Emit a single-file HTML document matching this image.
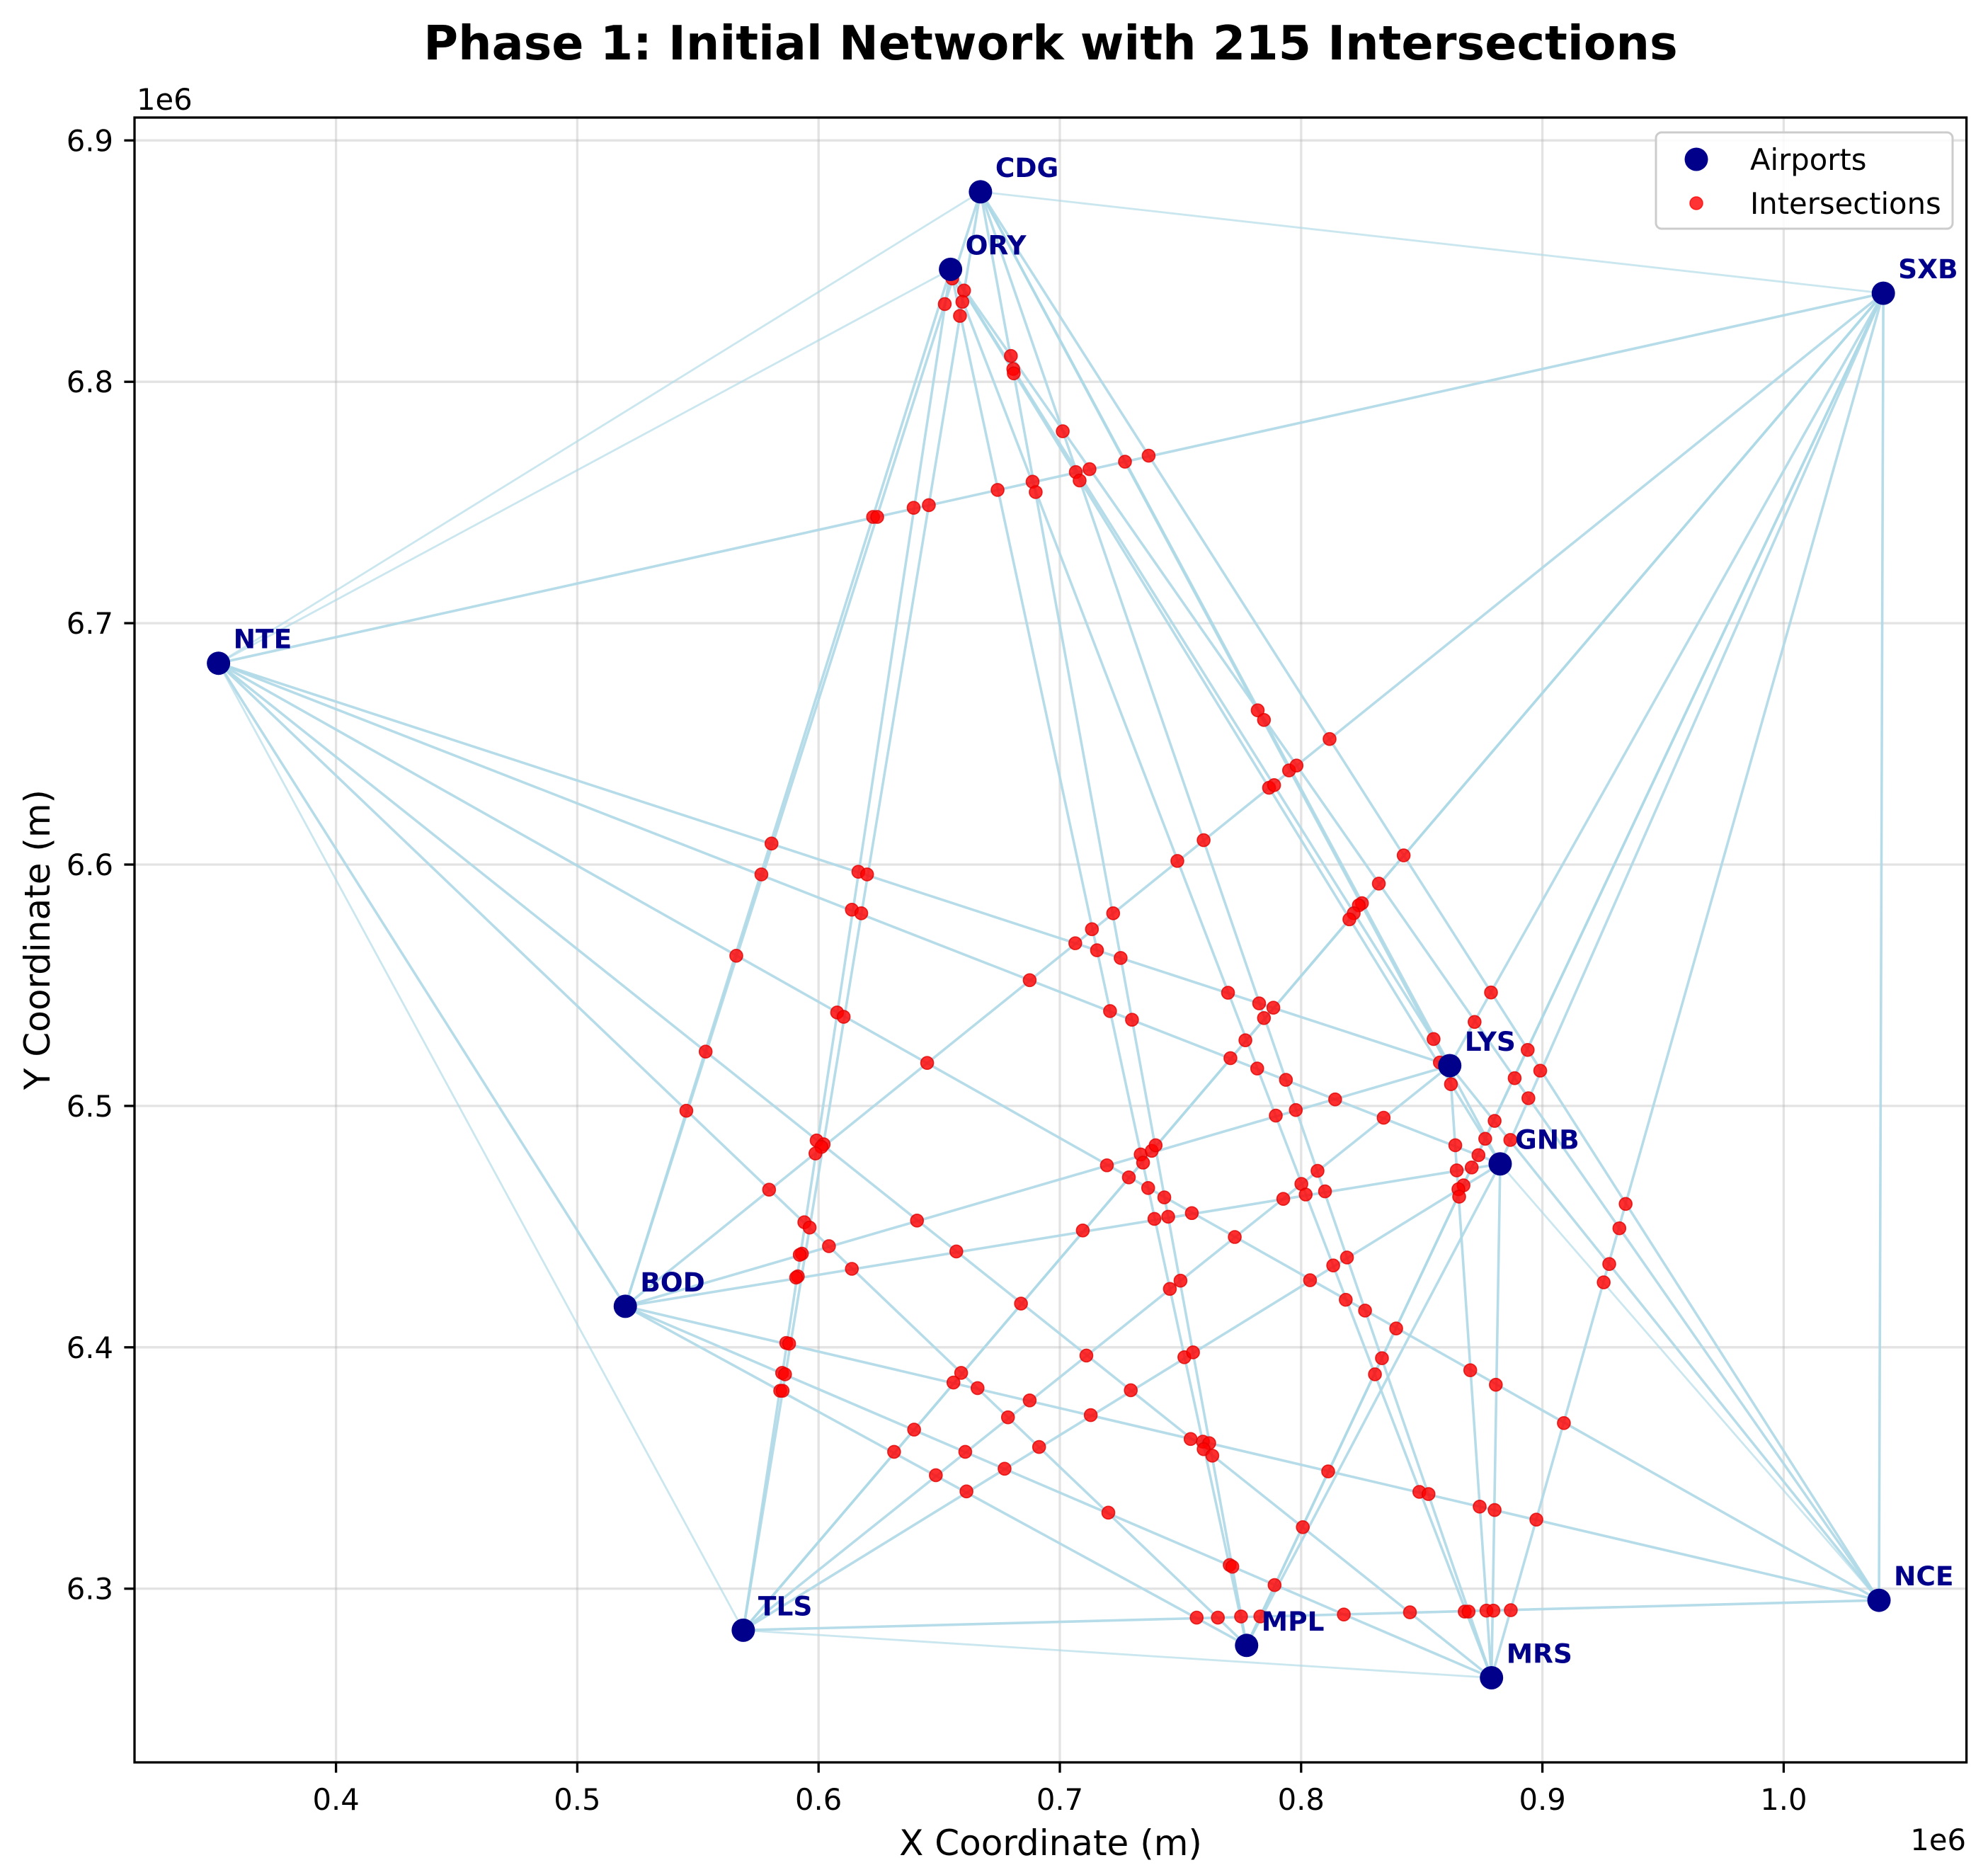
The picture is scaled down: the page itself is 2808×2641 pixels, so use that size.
<!DOCTYPE html>
<html>
<head>
<meta charset="utf-8">
<style>
  html, body { margin: 0; padding: 0; background: #ffffff; }
  svg { display: block; }
  text { font-family: "DejaVu Sans", "Liberation Sans", sans-serif; }
</style>
</head>
<body>
<svg id="chart" xmlns="http://www.w3.org/2000/svg" width="2808" height="2641" viewBox="0 0 2808 2641">
  <rect x="0" y="0" width="2808" height="2641" fill="#ffffff"/>
  <g id="grid"></g>
  <g id="routes"></g>
  <g id="intersections"></g>
  <g id="airports"></g>
  <g id="axes"></g>
  <text x="1484" y="84" text-anchor="middle" font-size="66.7" font-weight="bold" fill="#000">Phase 1: Initial Network with 215 Intersections</text>
  <text x="1484" y="2620" text-anchor="middle" font-size="50" fill="#000">X Coordinate (m)</text>
  <text transform="translate(70,1327) rotate(-90)" text-anchor="middle" font-size="50" fill="#000">Y Coordinate (m)</text>
  <text x="193" y="155" font-size="41.7" fill="#000">1e6</text>
  <text x="2777" y="2613" text-anchor="end" font-size="41.7" fill="#000">1e6</text>
  <g>
    <rect x="2339" y="187" width="419" height="136" rx="8" fill="#ffffff" fill-opacity="0.85" stroke="#cccccc" stroke-width="3"/>
    <circle cx="2396" cy="225" r="16.5" fill="#00008b"/>
    <text x="2472" y="240" font-size="41.7" fill="#000">Airports</text>
    <circle cx="2396" cy="287" r="9" fill="#ff0000" fill-opacity="0.8" stroke="#ff0000" stroke-opacity="0.8" stroke-width="1.5"/>
    <text x="2472" y="302" font-size="41.7" fill="#000">Intersections</text>
  </g>
</svg>
<script>
// ---- data ----
const airportCodes = ["CDG","ORY","SXB","NTE","LYS","GNB","BOD","TLS","MPL","MRS","NCE"];
const airportX = [667100, 654700, 1041300, 351300, 861600, 882500, 519900, 568800, 777400, 878900, 1039500];
const airportY = [6878700, 6846600, 6836700, 6683400, 6516700, 6476000, 6417000, 6282800, 6276500, 6263100, 6295200];

const routeFrom = ["NTE","NTE","NTE","NTE","NTE","NTE","NTE","NTE","NTE","NTE",
  "CDG","CDG","CDG","CDG","CDG","CDG","CDG","CDG",
  "ORY","ORY","ORY","ORY","ORY","ORY","ORY",
  "SXB","SXB","SXB","SXB","SXB","SXB","SXB",
  "BOD","BOD","BOD","BOD","BOD",
  "TLS","TLS","TLS","TLS","TLS",
  "LYS","LYS","GNB","GNB","MPL","MPL"];
const routeTo = ["CDG","ORY","SXB","LYS","GNB","NCE","MRS","MPL","BOD","TLS",
  "SXB","BOD","TLS","MPL","MRS","LYS","GNB","NCE",
  "BOD","TLS","MPL","MRS","LYS","GNB","NCE",
  "BOD","TLS","LYS","GNB","MPL","MRS","NCE",
  "LYS","GNB","NCE","MRS","MPL",
  "LYS","GNB","NCE","MRS","SXB",
  "MRS","NCE","MRS","NCE","GNB","SXB"];
const thinRoutes = ["NTE-CDG","NTE-ORY","NTE-TLS","CDG-SXB","GNB-NCE","TLS-MRS"];

// intersection coordinates in km
const intersectionXKm = [655.4,660.3,659.6,652.3,658.6,679.7,680.7,680.9,622.6,624.3,639.4,645.7,674.2,688.7,690.0,580.5,576.3,616.5,620.1,613.8,617.7,
  701.2,706.6,708.2,712.3,727.0,736.8,782.0,784.6,811.8,795.0,798.1,786.7,788.8,759.6,748.7,842.5,832.2,825.2,823.9,821.8,820.0,722.1,713.3,
  565.9,607.7,610.4,687.5,645.0,553.2,545.2,599.2,602.1,601.2,598.7,579.5,594.1,596.3,604.3,593.1,592.2,640.8,657.1,613.8,591.4,590.7,683.9,586.6,587.8,584.9,586.1,584.1,585.1,659.1,655.9,665.9,687.5,678.5,639.6,691.4,660.8,631.3,648.6,677.1,661.3,
  706.4,715.4,725.2,769.7,782.6,788.5,784.6,720.8,729.9,776.9,770.7,781.8,793.7,797.8,789.5,814.1,834.2,854.9,871.9,878.7,893.9,899.1,888.5,894.2,862.1,857.5,863.9,873.5,876.3,880.2,886.7,870.7,864.5,867.3,865.2,865.5,934.5,931.9,927.7,925.4,
  719.5,728.6,733.5,734.5,738.1,739.7,736.6,743.3,739.2,744.9,754.7,709.5,772.5,792.6,800.1,801.9,809.9,806.8,819.0,813.3,803.7,750.0,745.6,818.5,826.5,839.4,833.5,830.6,870.1,880.7,908.9,
  711.0,729.4,751.6,755.2,712.8,754.2,759.3,761.9,759.6,763.2,811.2,849.0,852.8,874.0,880.2,897.5,720.1,800.7,770.4,771.5,789.0,756.7,765.5,775.1,783.1,817.7,845.1,867.8,869.4,876.8,879.7,886.9];
const intersectionYKm = [6842.8,6837.8,6833.1,6832.2,6827.3,6810.7,6805.3,6803.5,6744.0,6744.0,6747.8,6748.9,6755.2,6758.6,6754.3,6608.7,6595.9,6597.0,6595.9,6581.3,6579.8,
  6779.5,6762.6,6759.1,6763.8,6766.9,6769.4,6663.9,6659.9,6652.0,6639.0,6641.0,6631.8,6632.9,6610.1,6601.5,6603.8,6592.1,6584.0,6583.1,6579.8,6577.3,6579.8,6573.2,
  6562.2,6538.7,6536.9,6552.1,6517.8,6522.5,6498.0,6485.7,6484.1,6483.0,6480.3,6465.3,6451.8,6449.6,6441.9,6438.8,6438.3,6452.5,6439.7,6432.5,6429.4,6428.9,6418.1,6401.8,6401.5,6389.4,6388.8,6382.0,6382.0,6389.4,6385.4,6383.1,6378.0,6371.0,6365.9,6358.7,6356.7,6356.7,6347.0,6349.7,6340.3,
  6567.4,6564.5,6561.3,6546.9,6542.5,6540.7,6536.4,6539.3,6535.7,6527.2,6519.8,6515.5,6510.8,6498.3,6496.0,6502.7,6495.1,6527.7,6534.8,6547.0,6523.2,6514.6,6511.5,6503.2,6509.0,6518.0,6483.7,6479.6,6486.4,6493.8,6485.9,6474.5,6473.3,6467.1,6465.5,6462.4,6459.4,6449.3,6434.5,6426.9,
  6475.4,6470.4,6479.9,6476.5,6481.4,6483.7,6466.0,6462.1,6453.2,6454.1,6455.6,6448.4,6445.7,6461.5,6467.7,6463.3,6464.6,6473.1,6437.2,6433.9,6427.8,6427.6,6424.2,6419.7,6415.2,6407.8,6395.5,6388.8,6390.5,6384.5,6368.6,
  6396.6,6382.2,6395.9,6397.9,6371.9,6362.0,6360.9,6360.3,6357.8,6355.1,6348.6,6340.1,6339.2,6334.0,6332.6,6328.6,6331.5,6325.5,6309.8,6309.1,6301.5,6288.0,6288.0,6288.5,6288.5,6289.3,6290.2,6290.5,6290.5,6290.9,6290.9,6291.1];

const xTickValues = [400000, 500000, 600000, 700000, 800000, 900000, 1000000];
const xTickLabels = ["0.4","0.5","0.6","0.7","0.8","0.9","1.0"];
const yTickValues = [6300000, 6400000, 6500000, 6600000, 6700000, 6800000, 6900000];
const yTickLabels = ["6.3","6.4","6.5","6.6","6.7","6.8","6.9"];

// ---- axis functions ----
const PLOT = { left: 190, right: 2777.6, top: 166, bottom: 2489 };
function xs(v) { return 474.6 + (v - 400000) * 0.003408; }
function ys(v) { return 198.3 + (6900000 - v) * 0.003409; }

const NS = "http://www.w3.org/2000/svg";
function mk(tag, attrs, parent) {
  const el = document.createElementNS(NS, tag);
  for (const k in attrs) el.setAttribute(k, attrs[k]);
  parent.appendChild(el);
  return el;
}

// grid
const grid = document.getElementById("grid");
xTickValues.forEach((v, i) => {
  const l = mk("line", { x1: xs(v), x2: xs(v), y1: PLOT.top, y2: PLOT.bottom, stroke: "#b0b0b0", "stroke-opacity": 0.35, "stroke-width": 3.3 }, grid);
  
  
});
yTickValues.forEach((v, i) => {
  const l = mk("line", { x1: PLOT.left, x2: PLOT.right, y1: ys(v), y2: ys(v), stroke: "#b0b0b0", "stroke-opacity": 0.35, "stroke-width": 3.3 }, grid);
  
  
});

// routes
const routesG = document.getElementById("routes");
routeFrom.forEach((a, i) => {
  const b = routeTo[i];
  const ia = airportCodes.indexOf(a), ib = airportCodes.indexOf(b);
  const thin = thinRoutes.includes(a + "-" + b) || thinRoutes.includes(b + "-" + a);
  const l = mk("line", {
    x1: xs(airportX[ia]), y1: ys(airportY[ia]), x2: xs(airportX[ib]), y2: ys(airportY[ib]),
    stroke: "#add8e6", "stroke-opacity": thin ? 0.65 : 0.9, "stroke-width": thin ? 2.8 : 3.6, "stroke-linecap": "round"
  }, routesG);
  
  
});

// intersections
const interG = document.getElementById("intersections");
intersectionXKm.forEach((xk, i) => {
  const c = mk("circle", { cx: xs(xk * 1000), cy: ys(intersectionYKm[i] * 1000), r: 9, fill: "#ff0000", "fill-opacity": 0.82, stroke: "#e00000", "stroke-opacity": 0.8, "stroke-width": 1.6 }, interG);
  
  
});

// airports
const apG = document.getElementById("airports");
airportCodes.forEach((code, i) => {
  const cx = xs(airportX[i]), cy = ys(airportY[i]);
  const c = mk("circle", { cx: cx, cy: cy, r: 16.5, fill: "#00008b" }, apG);
  
  
  const t = mk("text", { x: cx + 21, y: cy - 21, "font-size": 37.5, "font-weight": "bold", fill: "#00008b" }, apG);
  t.textContent = code;
  
  
});

// axes: spines, ticks, labels
const axG = document.getElementById("axes");
const frame = mk("rect", { x: PLOT.left, y: PLOT.top, width: PLOT.right - PLOT.left, height: PLOT.bottom - PLOT.top, fill: "none", stroke: "#000", "stroke-width": 3.3 }, axG);


xTickValues.forEach((v, i) => {
  const x = xs(v);
  const tk = mk("line", { x1: x, x2: x, y1: PLOT.bottom, y2: PLOT.bottom + 14.6, stroke: "#000", "stroke-width": 3.3 }, axG);
  
  
  const t = mk("text", { x: x, y: 2556, "text-anchor": "middle", "font-size": 41.7, fill: "#000" }, axG);
  t.textContent = xTickLabels[i];
  
  
});
yTickValues.forEach((v, i) => {
  const y = ys(v);
  const tk = mk("line", { x1: PLOT.left - 14.6, x2: PLOT.left, y1: y, y2: y, stroke: "#000", "stroke-width": 3.3 }, axG);
  
  
  const t = mk("text", { x: 160, y: y + 15, "text-anchor": "end", "font-size": 41.7, fill: "#000" }, axG);
  t.textContent = yTickLabels[i];
  
  
});
</script>
</body>
</html>
